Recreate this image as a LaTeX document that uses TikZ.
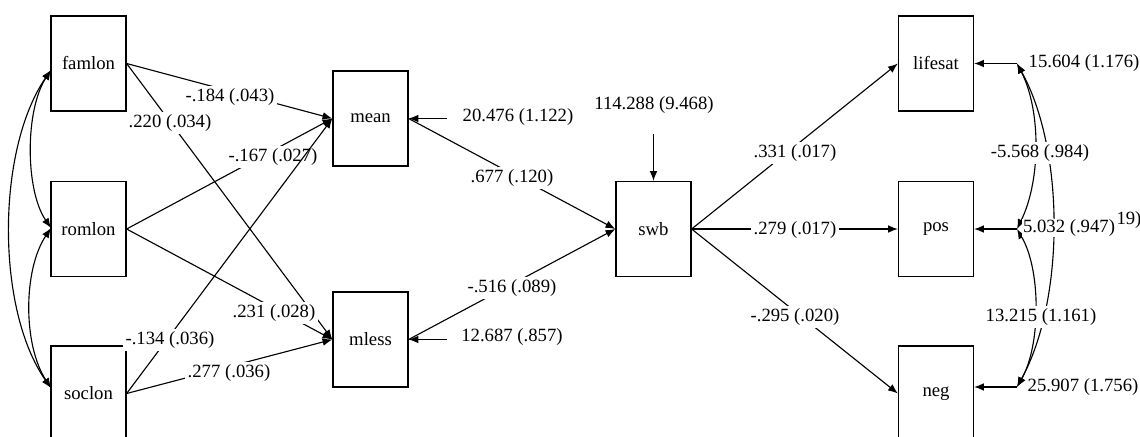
\documentclass[tikz,border=0pt]{standalone}
\usepackage{fontspec}
\setmainfont{Liberation Serif}
\usetikzlibrary{arrows.meta}
\tikzset{
  var/.style={draw, line width=0.9pt, minimum width=1.875cm, minimum height=2.375cm, inner sep=0pt, font=\fontsize{13.3pt}{15pt}\selectfont},
  lab/.style={fill=white, inner sep=1.8pt, font=\fontsize{13.3pt}{15pt}\selectfont},
  labn/.style={inner sep=1pt, font=\fontsize{13.3pt}{15pt}\selectfont},
  path/.style={line width=0.8pt, -{Latex[length=7pt,width=5.5pt]}},
  cov/.style={line width=0.8pt, {Latex[length=7pt,width=5.5pt]}-{Latex[length=7pt,width=5.5pt]}},
}
\begin{document}
\begin{tikzpicture}[x=0.025cm,y=-0.025cm]
\useasboundingbox (0,0) rectangle (1140,436);
\fill[white] (0,0) rectangle (1140,436);
\clip (0,0) rectangle (1140,436);
% boxes
\node[var] (famlon) at (88.5,63.5) {famlon};
\node[var] (romlon) at (88.5,229) {romlon};
\node[var] (soclon) at (88.5,393.5) {soclon};
\node[var] (mean) at (370.5,118.5) {mean};
\node[var] (mless) at (370.5,339.5) {mless};
\node[var] (swb) at (653.5,229) {swb};
\node[var] (lifesat) at (936,63.5) {lifesat};
\node[var] (pos) at (936,229) {pos};
\node[var] (neg) at (936,393.5) {neg};
% left paths
\draw[path] (famlon.east) -- (mean.west);
\draw[path] (famlon.east) -- (mless.west);
\draw[path] (romlon.east) -- (mean.west);
\draw[path] (romlon.east) -- (mless.west);
\draw[path] (soclon.east) -- (mless.west);
% covariances left
\coordinate (fL) at (51,70);
\coordinate (rL) at (51,228);
\coordinate (sL) at (51,388);
\draw[cov] (fL) .. controls (25,110) and (25,190) .. (rL);
\draw[cov] (fL) .. controls (-4,150) and (-4,310) .. (sL);
\draw[cov] (rL) .. controls (23,270) and (23,345) .. (sL);
% mediators to swb
\draw[path] (mean.east) -- (swb.west);
\draw[path] (mless.east) -- (swb.west);
% residuals
\coordinate (rmean) at (447,118.5);
\coordinate (rmless) at (447,339.5);
\coordinate (rswb) at (653.5,134);
\draw[path] (rmean) -- (mean.east);
\draw[path] (rmless) -- (mless.east);
\draw[path] (rswb) -- (swb.north);
% outcomes
\draw[path] (swb.east) -- (lifesat.west);
\draw[path] (swb.east) -- (pos.west);
\draw[path] (swb.east) -- (neg.west);
\coordinate (rlife) at (1017,63.5);
\coordinate (rpos) at (1017,229);
\coordinate (rneg) at (1017,387);
\draw[path] (rlife) -- (rlife -| lifesat.east);
\draw[path] (rpos) -- (rpos -| pos.east);
\draw[path] (rneg) -- (rneg -| neg.east);
\draw[cov] (rlife) .. controls (1041,110) and (1041,180) .. (rpos);
\draw[cov] (rlife) .. controls (1065,150) and (1065,300) .. (rneg);
\draw[cov] (rpos) .. controls (1041,270) and (1041,345) .. (rneg);
% labels
\node[lab] (l1) at (230,97) {-.184 (.043)};
\node[lab] (l2) at (170,123) {.220 (.034)};
\node[lab] (l3) at (273,157) {-.167 (.027)};
\node[lab] (l4) at (274,313) {.231 (.028)};
\node[lab] (l6) at (229,373) {.277 (.036)};
% soclon -> mean is drawn over the -.167 label, then broken by its own label
\draw[path] (soclon.east) -- (mean.west);
\node[lab] (l5) at (170,340) {-.134 (.036)};
\node[labn] (l7) at (518,117) {20.476 (1.122)};
\node[lab] (l8) at (512,178) {.677 (.120)};
\node[labn] (l9) at (654,105) {114.288 (9.468)};
\node[lab] (l10) at (512,288) {-.516 (.089)};
\node[labn] (l11) at (512,337) {12.687 (.857)};
\node[lab] (l12) at (795,153) {.331 (.017)};
\node[lab] (l13) at (795,230) {.279 (.017)};
\node[lab] (l14) at (795,317) {-.295 (.020)};
\node[labn] (l15) at (1084,63) {15.604 (1.176)};
\node[lab] (l16) at (1040,153) {-5.568 (.984)};
\node[labn] (l19) at (1129,220) {19)};
\node[lab, inner sep=0.5pt] (l17) at (1069,228) {5.032 (.947)};
\node[lab] (l18) at (1041,317) {13.215 (1.161)};
\node[labn] (l20) at (1083,387) {25.907 (1.756)};
\end{tikzpicture}
\end{document}
